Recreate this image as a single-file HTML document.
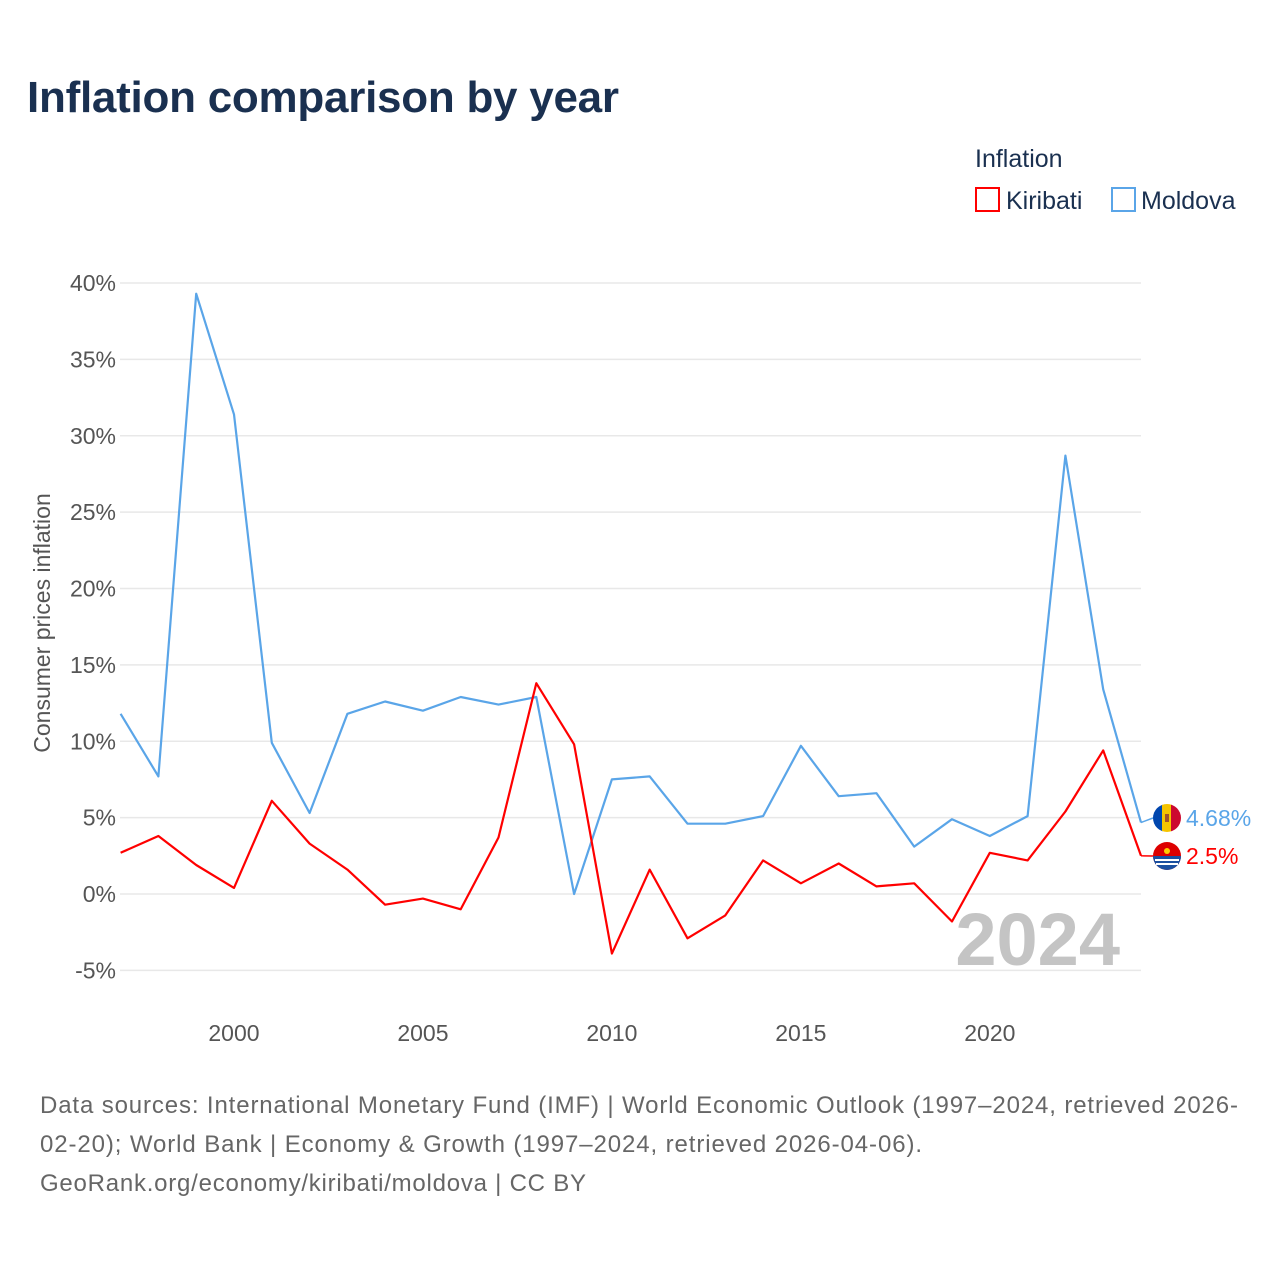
<!DOCTYPE html>
<html><head><meta charset="utf-8"><style>
body{margin:0;background:#fff;font-family:"Liberation Sans",sans-serif}
</style></head><body>
<svg width="1280" height="1280" xmlns="http://www.w3.org/2000/svg">
<defs><clipPath id="mdclip"><circle cx="1167" cy="818" r="14"/></clipPath></defs>
<rect width="1280" height="1280" fill="#fff"/>
<text x="27" y="112" font-size="44" font-weight="bold" fill="#1a3050" textLength="592">Inflation comparison by year</text>
<g>
<text x="975" y="167" font-size="25" fill="#1a3050">Inflation</text>
<g><rect x="976" y="188" width="23" height="23" fill="none" stroke="#f00" stroke-width="2"/><text x="1006" y="209" font-size="25" fill="#1a3050">Kiribati</text></g>
<g><rect x="1112" y="188" width="23" height="23" fill="none" stroke="#5aa5e8" stroke-width="2"/><text x="1141" y="209" font-size="25" fill="#1a3050">Moldova</text></g>
</g>
<g id="grid"></g>
<text x="1120" y="965" text-anchor="end" font-size="74" font-weight="bold" fill="#c4c4c4">2024</text>
<g id="plot"></g>
<text transform="translate(50,623) rotate(-90)" text-anchor="middle" font-size="23" fill="#555">Consumer prices inflation</text>
<g font-size="24" fill="#666">
<text x="40" y="1113" textLength="1198">Data sources: International Monetary Fund (IMF) | World Economic Outlook (1997–2024, retrieved 2026-</text>
<text x="40" y="1152" textLength="882">02-20); World Bank | Economy &amp; Growth (1997–2024, retrieved 2026-04-06).</text>
<text x="40" y="1191" textLength="546">GeoRank.org/economy/kiribati/moldova | CC BY</text>
</g>
</svg>
<script>
const years=[1997,1998,1999,2000,2001,2002,2003,2004,2005,2006,2007,2008,2009,2010,2011,2012,2013,2014,2015,2016,2017,2018,2019,2020,2021,2022,2023,2024];
const moldova=[11.8,7.7,39.3,31.4,9.9,5.3,11.8,12.6,12.0,12.9,12.4,12.9,0.0,7.5,7.7,4.6,4.6,5.1,9.7,6.4,6.6,3.1,4.9,3.8,5.1,28.7,13.4,4.68];
const kiribati=[2.7,3.8,1.9,0.4,6.1,3.3,1.6,-0.7,-0.3,-1.0,3.7,13.8,9.8,-3.9,1.6,-2.9,-1.4,2.2,0.7,2.0,0.5,0.7,-1.8,2.7,2.2,5.4,9.4,2.5];
const yTicks=[-5,0,5,10,15,20,25,30,35,40];
const xTicks=[2000,2005,2010,2015,2020];
const NS="http://www.w3.org/2000/svg";
const X=y=>120.6+(y-1997)*(1141-120.6)/27;
const Y=v=>894-v*(894-283)/40;
const grid=document.getElementById('grid'),plot=document.getElementById('plot');
function mk(t,a,p){const e=document.createElementNS(NS,t);for(const k in a)e.setAttribute(k,a[k]);p.appendChild(e);return e;}
yTicks.forEach(v=>{
 const l=mk('line',{x1:120,x2:1141,y1:Y(v),y2:Y(v),stroke:'#e8e8e8','stroke-width':1.5},grid);
 
 
 const t=mk('text',{x:116,y:Y(v)+8,'text-anchor':'end','font-size':23,fill:'#555'},grid);
 t.textContent=v+'%';
 
 
});
xTicks.forEach(y=>{
 const t=mk('text',{x:X(y),y:1041,'text-anchor':'middle','font-size':23,fill:'#555'},grid);
 t.textContent=y;
 
 
});
function series(vals,color,name){
 const d=vals.map((v,i)=>(i?'L':'M')+X(years[i]).toFixed(1)+','+Y(v).toFixed(1)).join('');
 const p=mk('path',{d:d,fill:'none',stroke:color,'stroke-width':2.2,'stroke-linejoin':'round'},plot);
 
 
}
series(moldova,'#5aa5e8','moldova');
series(kiribati,'#f00','kiribati');
function endLabel(vals,color,name,y){
 const v=vals[vals.length-1];
 const x0=X(years[years.length-1]);
 mk('line',{x1:x0,x2:1153,y1:Y(v),y2:y,stroke:color,'stroke-width':1.5},plot);
 if(name=='moldova'){
  const g=mk('g',{'clip-path':'url(#mdclip)'},plot);
  
  
  mk('rect',{x:1153,y:y-14,width:10,height:28,fill:'#0046ae'},g);
  mk('rect',{x:1162,y:y-14,width:10,height:28,fill:'#f5c400'},g);
  mk('rect',{x:1171,y:y-14,width:10,height:28,fill:'#cc092f'},g);
  mk('rect',{x:1165,y:y-4,width:4,height:8,fill:'#a0522d'},g);
 } else {
  const c=mk('circle',{cx:1167,cy:y,r:14,fill:'#d00'},plot);
  
  
  mk('path',{d:`M1153,${y}A14,14 0 0 0 1181,${y}Z`,fill:'#1a4fa0'},plot);
  mk('path',{d:`M1155,${y+4}h24M1156,${y+8}h22`,stroke:'#fff','stroke-width':2},plot);
  mk('circle',{cx:1167,cy:y-5,r:3,fill:'#fc0'},plot);
 }
 const t=mk('text',{x:1186,y:y+8,'font-size':23,fill:color},plot);
 t.textContent=(Math.round(v*100)/100)+'%';
 
 
}
endLabel(moldova,'#5aa5e8','moldova',818);
endLabel(kiribati,'#f00','kiribati',856);
</script>
</body></html>
